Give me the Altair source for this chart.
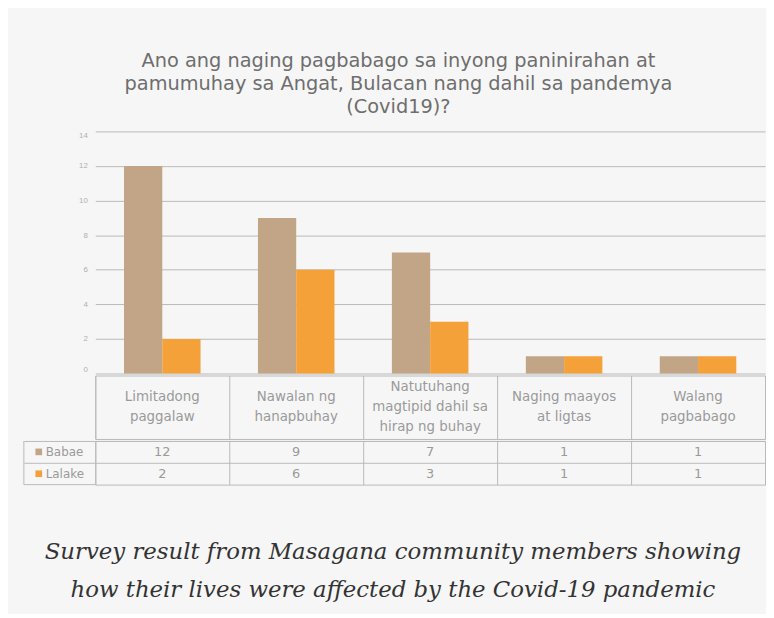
import altair as alt
import pandas as pd

categories = [
    "Limitadong paggalaw",
    "Nawalan ng hanapbuhay",
    "Natutuhang magtipid dahil sa hirap ng buhay",
    "Naging maayos at ligtas",
    "Walang pagbabago",
]
category_lines = [
    ["Limitadong", "paggalaw"],
    ["Nawalan ng", "hanapbuhay"],
    ["Natutuhang", "magtipid dahil sa", "hirap ng buhay"],
    ["Naging maayos", "at ligtas"],
    ["Walang", "pagbabago"],
]
series = ["Babae", "Lalake"]
babae = [12, 9, 7, 1, 1]
lalake = [2, 6, 3, 1, 1]
y_ticks = [0, 2, 4, 6, 8, 10, 12, 14]

title_lines = [
    "Ano ang naging pagbabago sa inyong paninirahan at",
    "pamumuhay sa Angat, Bulacan nang dahil sa pandemya",
    "(Covid19)?",
]
caption_lines = [
    "Survey result from Masagana community members showing",
    "how their lives were affected by the Covid-19 pandemic",
]

TAN = "#c2a587"
ORANGE = "#f4a13a"
GRID = "#b9b9b9"
TXT = "#9a9a9a"
W = 675
LEFT = 72

rows = []
for c, b, l in zip(categories, babae, lalake):
    rows.append({"cat": c, "series": "Babae", "value": b})
    rows.append({"cat": c, "series": "Lalake", "value": l})
df = pd.DataFrame(rows)

xscale = alt.Scale(type="band", domain=categories, paddingInner=0, paddingOuter=0)
cscale = alt.Scale(domain=series, range=[TAN, ORANGE])

bars = alt.Chart(
    df,
    title=alt.Title(
        title_lines, font="DejaVu Sans", fontSize=19.5, fontWeight="normal",
        color="#6e6e6e", lineHeight=23, anchor="middle", frame="group", dx=-32, offset=14,
    ),
).mark_bar().encode(
    x=alt.X("cat:N", scale=xscale, axis=None),
    xOffset=alt.XOffset("series:N", sort=series,
                        scale=alt.Scale(domain=series, paddingInner=0, paddingOuter=0.75)),
    y=alt.Y("value:Q", scale=alt.Scale(domain=[0, 14]),
            axis=alt.Axis(values=y_ticks, title=None, grid=True, gridColor=GRID,
                          domain=False, ticks=False, labelColor="#b0b0b0",
                          labelFontSize=8, labelPadding=8, minExtent=LEFT + 3,
                          labelFlush=True)),
    color=alt.Color("series:N", scale=cscale, legend=None),
).properties(width=W, height=244, view=alt.ViewBackground(stroke="transparent"))

label_df = pd.DataFrame({
    "cat": categories,
    "label": ["\n".join(l) for l in category_lines],
    "n": [len(l) for l in category_lines],
    "k": ["a"] * len(categories),
})
xcat_axis = alt.Axis(bandPosition=0, grid=True, gridColor=GRID, labels=False,
                     ticks=False, domain=False, title=None)
ylab = alt.Y("k:N", scale=alt.Scale(type="point", padding=0.5),
             axis=alt.Axis(labels=False, ticks=False, domain=False, title=None,
                           grid=False, minExtent=LEFT + 3))


def label_layer(n, dy):
    return alt.Chart(label_df).transform_filter(alt.datum.n == n).mark_text(
        lineBreak="\n", fontSize=13.5, color=TXT, lineHeight=20, font="DejaVu Sans",
        baseline="middle", dy=dy,
    ).encode(
        x=alt.X("cat:N", scale=xscale, axis=xcat_axis),
        y=ylab,
        text="label:N",
    )


label_row = alt.layer(label_layer(2, -10), label_layer(3, -20)).properties(width=W, height=64)

yrow = alt.Y("series:N", sort=series,
             scale=alt.Scale(type="band", domain=series, paddingInner=0, paddingOuter=0),
             axis=alt.Axis(bandPosition=0, grid=True, gridColor=GRID, labels=False,
                           ticks=True, tickSize=LEFT, tickColor=GRID, domain=False,
                           title=None, minExtent=LEFT + 3))

values_text = alt.Chart(df).mark_text(fontSize=13, color=TXT, font="DejaVu Sans").encode(
    x=alt.X("cat:N", scale=xscale, axis=xcat_axis),
    y=yrow,
    text="value:Q",
)
leg_df = pd.DataFrame({"series": series})
leg_sq = alt.Chart(leg_df).mark_square(size=45, opacity=1).encode(
    x=alt.value(-57), y=yrow,
    color=alt.Color("series:N", scale=cscale, legend=None),
)
leg_txt = alt.Chart(leg_df).mark_text(align="left", fontSize=12, color=TXT, font="DejaVu Sans").encode(
    x=alt.value(-50), y=yrow, text="series:N",
)
one = pd.DataFrame({"a": [0]})
rule_bottom = alt.Chart(one).mark_rule(color=GRID).encode(
    x=alt.value(-LEFT), x2=alt.value(0), y=alt.value(44))
rule_left = alt.Chart(one).mark_rule(color=GRID).encode(
    x=alt.value(-LEFT), y=alt.value(0), y2=alt.value(44))

table = alt.layer(values_text, leg_sq, leg_txt, rule_bottom, rule_left).properties(width=W, height=44)

chart = alt.vconcat(
    bars, label_row, table, spacing=0,
    title=alt.Title(caption_lines, orient="bottom", anchor="middle",
                    font="DejaVu Serif", fontStyle="italic", fontWeight="normal",
                    fontSize=23, color="#333333", lineHeight=38, offset=56),
).properties(
    padding={"left": 12, "top": 41, "right": 0, "bottom": 10},
    background="#f6f6f6",
).configure_view(stroke=GRID)

chart.save("out.html", embed_options={"renderer": "svg", "actions": False})
